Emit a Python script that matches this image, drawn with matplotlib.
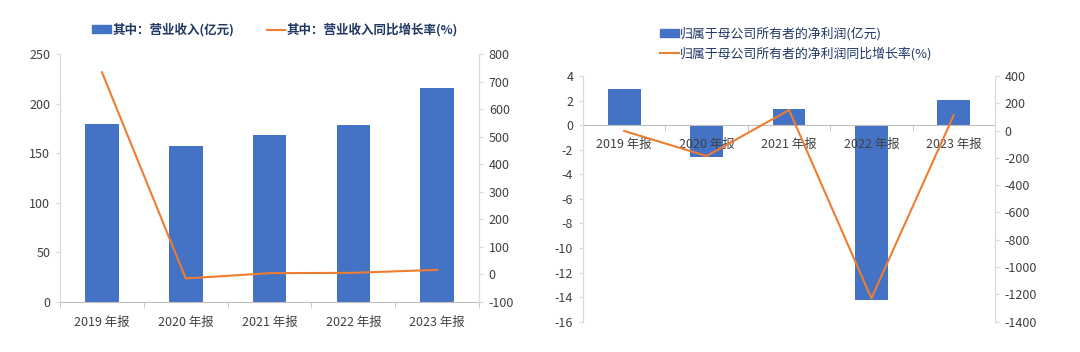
import matplotlib
matplotlib.use('Agg')
import matplotlib.pyplot as plt
import numpy as np
from matplotlib.patches import Patch
from matplotlib.lines import Line2D

plt.rcParams['font.family'] = ['Noto Sans CJK SC', 'DejaVu Sans']
plt.rcParams['axes.unicode_minus'] = False

# data
years = ['2019 年报', '2020 年报', '2021 年报', '2022 年报', '2023 年报']
revenue = [179.4, 157.0, 168.0, 178.7, 215.4]
revenue_yoy = [734, -14.5, 4.7, 6.0, 16.7]
profit = [2.93, -2.58, 1.28, -14.2, 2.04]
profit_yoy = [-3, -186, 151, -1229, 114]

bar_color = '#4472C4'
line_color = '#ED7D31'
spine_color = '#D9D9D9'
axis_color = '#BFBFBF'
text_color = '#404040'
legend_color = '#1F3864'
fs = 9


def style_axes(ax, ax2):
    for a in (ax, ax2):
        a.spines['top'].set_visible(False)
        a.spines['left'].set_color(spine_color)
        a.spines['right'].set_color(spine_color)
        a.spines['bottom'].set_color(axis_color)
        a.tick_params(axis='y', colors=spine_color, labelcolor=text_color,
                      labelsize=fs, length=3, pad=4)
    ax2.spines['bottom'].set_visible(False)
    ax.tick_params(axis='x', which='major', length=0, labelcolor=text_color,
                   labelsize=fs, pad=10)
    ax.tick_params(axis='x', which='minor', length=4, color=axis_color)
    x = np.arange(len(years))
    ax.set_xticks(x)
    ax.set_xticklabels(years)
    ax.set_xticks(np.arange(len(years) + 1) - 0.5, minor=True)
    ax.set_xlim(-0.5, len(years) - 0.5)


fig = plt.figure(figsize=(10.8, 3.52), dpi=100)
x = np.arange(len(years))

# left chart: revenue
ax1 = fig.add_axes([0.0556, 0.142, 0.388, 0.7045])
ax1b = ax1.twinx()
ax1.bar(x, revenue, width=0.4, color=bar_color, zorder=1)
ax1b.plot(x, revenue_yoy, color=line_color, lw=1.5)
ax1.set_ylim(0, 250)
ax1.set_yticks(range(0, 251, 50))
ax1b.set_ylim(-100, 800)
ax1b.set_yticks(range(-100, 801, 100))
style_axes(ax1, ax1b)

fig.legend([Patch(color=bar_color), Line2D([], [], color=line_color, lw=1.5)],
           ['其中：营业收入(亿元)', '其中：营业收入同比增长率(%)'],
           loc='center', bbox_to_anchor=(275 / 1080, 1 - 30 / 352), ncol=2,
           frameon=False, handlelength=1.5, handleheight=0.6, handletextpad=0.1,
           columnspacing=2.6, prop={'size': fs, 'weight': 'bold'},
           labelcolor=legend_color)

# right chart: net profit
ax2 = fig.add_axes([0.5398, 0.0861, 0.3815, 0.698])
ax2b = ax2.twinx()
ax2.bar(x, profit, width=0.4, color=bar_color, zorder=1)
ax2b.plot(x, profit_yoy, color=line_color, lw=1.5)
ax2.set_ylim(-16, 4)
ax2.set_yticks(range(-16, 5, 2))
ax2b.set_ylim(-1400, 400)
ax2b.set_yticks(range(-1400, 401, 200))
style_axes(ax2, ax2b)
ax2.spines['bottom'].set_position(('data', 0))
ax2.tick_params(axis='x', which='major', pad=9)

fig.legend([Patch(color=bar_color), Line2D([], [], color=line_color, lw=1.5)],
           ['归属于母公司所有者的净利润(亿元)', '归属于母公司所有者的净利润同比增长率(%)'],
           loc='upper left', bbox_to_anchor=(648 / 1080, 1 - 15 / 352), ncol=1,
           frameon=False, handlelength=1.5, handleheight=0.6, handletextpad=0.1,
           labelspacing=0.5, prop={'size': fs + 0.3}, labelcolor=legend_color)

fig.savefig('out.png', dpi=100)
